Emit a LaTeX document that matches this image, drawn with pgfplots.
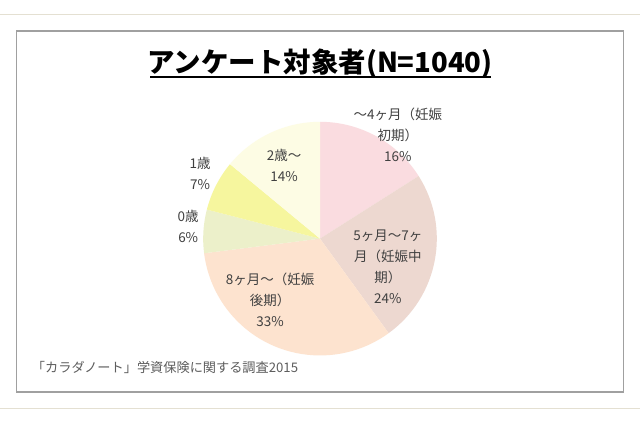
\documentclass[border=0pt]{standalone}
\usepackage{pgfplots}
\pgfplotsset{compat=1.18}
\usepackage{pgfplotstable}
\usepackage{fontspec}
\setmainfont{Noto Sans CJK JP}

\definecolor{pieA}{RGB}{250,220,224}
\definecolor{pieB}{RGB}{237,216,208}
\definecolor{pieC}{RGB}{253,227,207}
\definecolor{pieD}{RGB}{236,240,202}
\definecolor{pieE}{RGB}{246,246,158}
\definecolor{pieF}{RGB}{253,252,228}
\definecolor{labelgray}{RGB}{64,64,64}
\definecolor{framegray}{RGB}{160,160,160}
\definecolor{beige}{RGB}{228,224,210}

% share of each group, clockwise from 12 o'clock
\pgfplotstableread{
value color
16 pieA
24 pieB
33 pieC
6  pieD
7  pieE
14 pieF
}\piedata

\newcommand{\lbl}{\fontsize{13.5}{21}\selectfont\color{labelgray}}

\begin{document}
\begin{tikzpicture}
% page and frames (image coords: y' = 426 - y)
\fill[white] (0pt,0pt) rectangle (640pt,426pt);
\draw[beige, line width=1pt] (0pt,411pt) -- (640pt,411pt);
\draw[beige, line width=1pt] (0pt,17pt) -- (640pt,17pt);
\draw[framegray, line width=1.8pt] (16pt,33pt) rectangle (624pt,395pt);

\begin{axis}[
    at={(320pt,187pt)}, anchor=origin,
    x=117pt, y=117pt,
    xmin=-1, xmax=1, ymin=-1, ymax=1,
    hide axis, clip=false,
]
\pgfmathsetmacro\angstart{90}
\pgfplotsforeachungrouped \i in {0,...,5}{
    \pgfplotstablegetelem{\i}{value}\of\piedata \let\val\pgfplotsretval
    \pgfplotstablegetelem{\i}{color}\of\piedata \let\col\pgfplotsretval
    \pgfmathsetmacro\angend{\angstart-3.6*\val}
    \edef\doslice{\noexpand\fill[\col] (axis cs:0,0) -- (axis cs:{cos(\angstart)},{sin(\angstart)})
        arc[start angle=\angstart, end angle=\angend, radius=117pt] -- cycle;}
    \doslice
    \global\let\angstart\angend
}
\end{axis}

% title
\node[font=\fontsize{27.5}{30}\selectfont\bfseries] at (320pt,362pt) {アンケート対象者(N=1040)};
\draw[black, line width=1.5pt] (150pt,349pt) -- (491pt,349pt);

% slice labels
\node[align=center, font=\lbl] at (398pt,291pt) {〜4ヶ月（妊娠\\初期）\\16\%};
\node[align=center, font=\lbl] at (388pt,158.5pt) {5ヶ月〜7ヶ\\月（妊娠中\\期）\\24\%};
\node[align=center, font=\lbl] at (270pt,126pt) {8ヶ月〜（妊娠\\後期）\\33\%};
\node[align=center, font=\lbl] at (188pt,199pt) {0歳\\6\%};
\node[align=center, font=\lbl] at (200pt,252pt) {1歳\\7\%};
\node[align=center, font=\lbl] at (284pt,260pt) {2歳〜\\14\%};

% source
\node[anchor=west, font=\fontsize{13.2}{15}\selectfont, text=labelgray!85] at (28pt,58pt) {「カラダノート」学資保険に関する調査2015};
\end{tikzpicture}
\end{document}
